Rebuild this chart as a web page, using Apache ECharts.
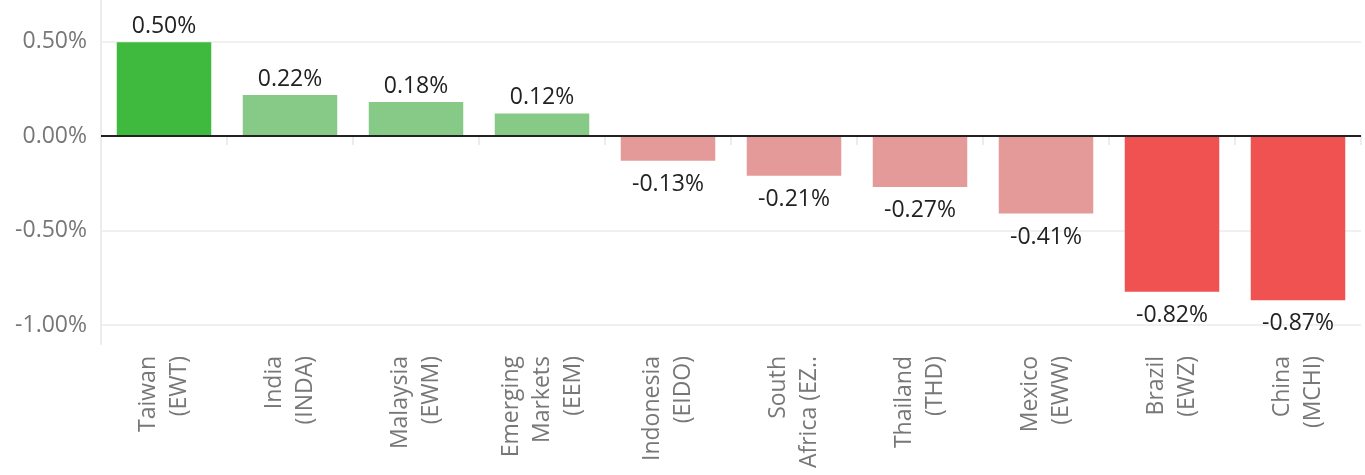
<!DOCTYPE html>
<html>
<head>
<meta charset="utf-8">
<script src="https://cdn.jsdelivr.net/npm/echarts@6/dist/echarts.min.js"></script>
<style>
html,body{margin:0;padding:0;background:#fff;}
#c{width:1365px;height:475px;}
</style>
</head>
<body>
<div id="c"></div>
<script>
const categories = ['Taiwan\n(EWT)', 'India\n(INDA)', 'Malaysia\n(EWM)', 'Emerging\nMarkets\n(EEM)', 'Indonesia\n(EIDO)', 'South\nAfrica (EZ..', 'Thailand\n(THD)', 'Mexico\n(EWW)', 'Brazil\n(EWZ)', 'China\n(MCHI)'];
const values = [0.497, 0.217, 0.18, 0.12, -0.13, -0.21, -0.27, -0.41, -0.823, -0.868];
const yTicks = [-1.0, -0.5, 0, 0.5];

const FONT = 'Open Sans';
function barColor(v) {
  if (v >= 0.3) return '#3fba3f';
  if (v >= 0) return '#87c987';
  if (v > -0.5) return '#e49a98';
  return '#f05252';
}
const chart = echarts.init(document.getElementById('c'));
chart.setOption({
  animation: false,
  grid: {left: 101, right: 4, top: 0, bottom: 131},
  xAxis: {
    type: 'category',
    data: categories,
    boundaryGap: true,
    axisLine: {show: true, lineStyle: {color: '#ececec', width: 2}},
    axisTick: {show: true, alignWithLabel: false, length: 9, lineStyle: {color: '#ececec', width: 2}},
    axisLabel: {interval: 0, rotate: 90, margin: 12, color: '#777', fontSize: 23, fontFamily: FONT, lineHeight: 31}
  },
  yAxis: {
    type: 'value',
    min: -1.1,
    max: 0.72,
    axisLine: {show: true, lineStyle: {color: '#ececec', width: 2}},
    axisTick: {show: false, customValues: yTicks},
    splitLine: {show: true, lineStyle: {color: '#f0f0f0', width: 2}},
    axisLabel: {customValues: yTicks, margin: 14, color: '#777', fontSize: 23, fontFamily: FONT,
      padding: [4, 0, 0, 0],
      formatter: v => v.toFixed(2) + '%'}
  },
  series: [{
    type: 'bar',
    data: values.map(v => ({
      value: v,
      itemStyle: {color: barColor(v)},
      label: {position: v < 0 ? 'bottom' : 'top', distance: v < 0 ? 12 : 4}
    })),
    barCategoryGap: '25%',
    label: {
      show: true,
      color: '#222',
      fontSize: 23,
      fontFamily: FONT,
      formatter: p => p.value.toFixed(2) + '%'
    },
    markLine: {
      silent: true,
      symbol: 'none',
      label: {show: false},
      lineStyle: {color: '#222', width: 2, type: 'solid'},
      data: [{yAxis: 0}]
    }
  }]
});
</script>
</body>
</html>
